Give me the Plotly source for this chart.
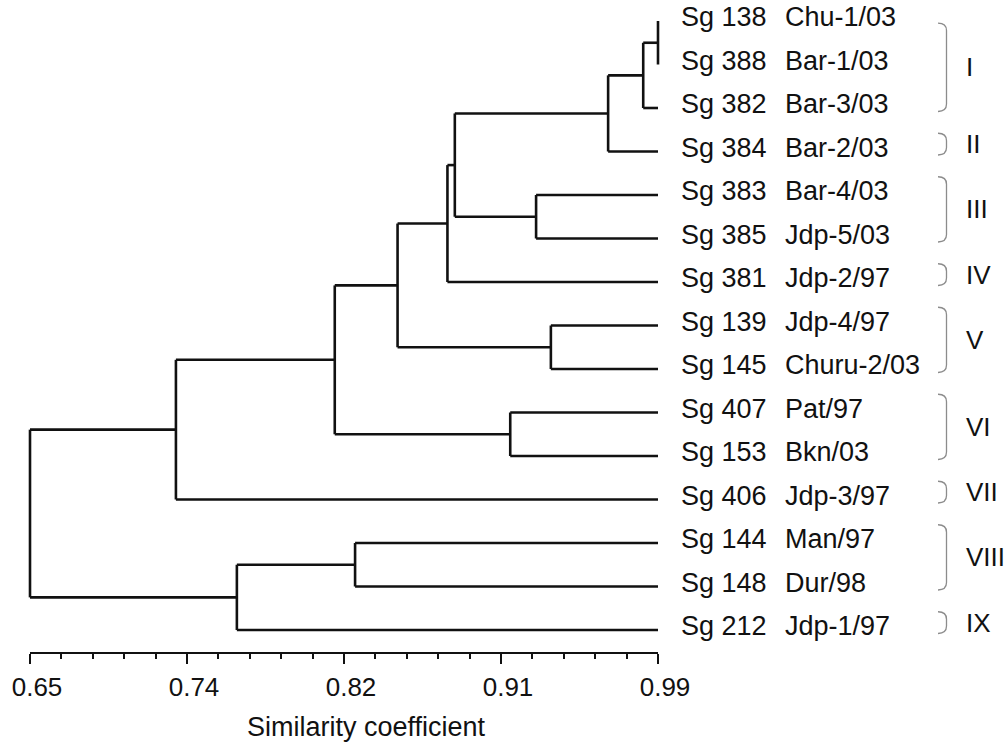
import plotly.graph_objects as go

# ---------------- data ----------------
isolates = ["Sg 138", "Sg 388", "Sg 382", "Sg 384", "Sg 383", "Sg 385", "Sg 381",
            "Sg 139", "Sg 145", "Sg 407", "Sg 153", "Sg 406", "Sg 144", "Sg 148", "Sg 212"]
strains = ["Chu-1/03", "Bar-1/03", "Bar-3/03", "Bar-2/03", "Bar-4/03", "Jdp-5/03", "Jdp-2/97",
           "Jdp-4/97", "Churu-2/03", "Pat/97", "Bkn/03", "Jdp-3/97", "Man/97", "Dur/98", "Jdp-1/97"]

# merges: (child_a, child_b, similarity); leaves are 0..14, merges numbered from 15
merge_a = [0, 15, 16, 4, 17, 19, 7, 20, 9, 22, 24, 12, 26, 25]
merge_b = [1, 2, 3, 5, 18, 6, 8, 21, 10, 23, 11, 13, 14, 27]
merge_sim = [0.990, 0.982, 0.963, 0.924, 0.880, 0.876, 0.932, 0.849, 0.910, 0.815,
             0.729, 0.826, 0.762, 0.650]

group_names = ["I", "II", "III", "IV", "V", "VI", "VII", "VIII", "IX"]
group_first = [0, 3, 4, 6, 7, 9, 11, 12, 14]
group_last = [2, 3, 5, 6, 8, 10, 11, 13, 14]

tick_values = [0.65, 0.735, 0.82, 0.905, 0.99]
tick_labels = ["0.65", "0.74", "0.82", "0.91", "0.99"]
minor_step = 0.017
x_title = "Similarity coefficient"

# ---------------- layout geometry ----------------
W, H = 1007, 742
X_LO, X_HI = 0.65, 0.99
PX_LO, PX_HI = 30.0, 658.0
PPU = (PX_HI - PX_LO) / (X_HI - X_LO)
ML, MR = 26, 345
MT, MB = 0, 89
PLOT_W = W - ML - MR
PLOT_H = H - MT - MB
x_range = [X_LO - (PX_LO - ML) / PPU, X_HI + ((W - MR) - PX_HI) / PPU]
ROW0_PX, ROW_STEP = 21.0, 43.5
y_range = [(PLOT_H - ROW0_PX) / ROW_STEP, (0 - ROW0_PX) / ROW_STEP]  # reversed


def paper_x(px):
    return (px - ML) / PLOT_W


def paper_y(py):
    return (MT + PLOT_H - py) / PLOT_H


FONT = "Liberation Sans, Arial, sans-serif"
INK = "#111111"

# ---------------- dendrogram ----------------
n = len(isolates)
node_x = {i: X_HI for i in range(n)}
node_y = {i: float(i) for i in range(n)}
xs, ys = [], []
for k, (a, b, s) in enumerate(zip(merge_a, merge_b, merge_sim)):
    nid = n + k
    for c in (a, b):
        xs += [node_x[c], s, None]
        ys += [node_y[c], node_y[c], None]
    xs += [s, s, None]
    ys += [node_y[a], node_y[b], None]
    node_x[nid] = s
    node_y[nid] = (node_y[a] + node_y[b]) / 2

fig = go.Figure()
fig.add_trace(go.Scatter(x=xs, y=ys, mode="lines",
                         line=dict(color=INK, width=2.6),
                         hoverinfo="skip", showlegend=False))

annotations = []
shapes = []
for i in range(n):
    annotations.append(dict(x=paper_x(679), xref="paper", y=i, yref="y",
                            text=isolates[i], showarrow=False, xanchor="left",
                            yanchor="middle", yshift=4,
                            font=dict(family=FONT, size=27, color=INK)))
    annotations.append(dict(x=paper_x(783), xref="paper", y=i, yref="y",
                            text=strains[i], showarrow=False, xanchor="left",
                            yanchor="middle", yshift=4,
                            font=dict(family=FONT, size=27, color=INK)))

bx0, bx1 = paper_x(938), paper_x(946.5)
r = 0.17
for name, f, l in zip(group_names, group_first, group_last):
    top = max(f - 0.42, 0.05)
    bot = l + 0.08
    path = (f"M {bx0},{top} Q {bx1},{top} {bx1},{top + r} "
            f"L {bx1},{bot - r} Q {bx1},{bot} {bx0},{bot}")
    shapes.append(dict(type="path", path=path, xref="paper", yref="y",
                       line=dict(color="#8c8c8c", width=1.3)))
    annotations.append(dict(x=paper_x(964), xref="paper", y=(top + bot) / 2, yref="y",
                            text=name, showarrow=False, xanchor="left", yanchor="middle",
                            font=dict(family=FONT, size=26, color=INK)))

# axis baseline
shapes.append(dict(type="line", x0=X_LO, x1=X_HI, xref="x", y0=0, y1=0, yref="paper",
                   line=dict(color=INK, width=2.2)))

annotations.append(dict(x=paper_x(366), xref="paper", y=paper_y(727), yref="paper",
                        text=x_title, showarrow=False, xanchor="center", yanchor="middle",
                        font=dict(family=FONT, size=27, color=INK)))

fig.update_layout(
    width=W, height=H,
    margin=dict(l=ML, r=MR, t=MT, b=MB, pad=0),
    paper_bgcolor="white", plot_bgcolor="white",
    showlegend=False,
    annotations=annotations,
    shapes=shapes,
    xaxis=dict(range=x_range, showgrid=False, zeroline=False, showline=False,
               tickmode="array", tickvals=tick_values, ticktext=tick_labels,
               ticks="outside", ticklen=10, tickwidth=2, tickcolor=INK,
               ticklabelshift=7, ticklabelstandoff=1,
               tickfont=dict(family=FONT, size=26, color=INK),
               minor=dict(tick0=X_LO, dtick=minor_step, ticks="outside",
                          ticklen=5, tickwidth=2, tickcolor=INK, showgrid=False),
               fixedrange=True),
    yaxis=dict(range=y_range, visible=False, showgrid=False, zeroline=False,
               fixedrange=True),
)

fig.write_html("out.html", config={"displayModeBar": False},
               post_script="document.body.style.margin='0';document.body.style.overflow='hidden';")
